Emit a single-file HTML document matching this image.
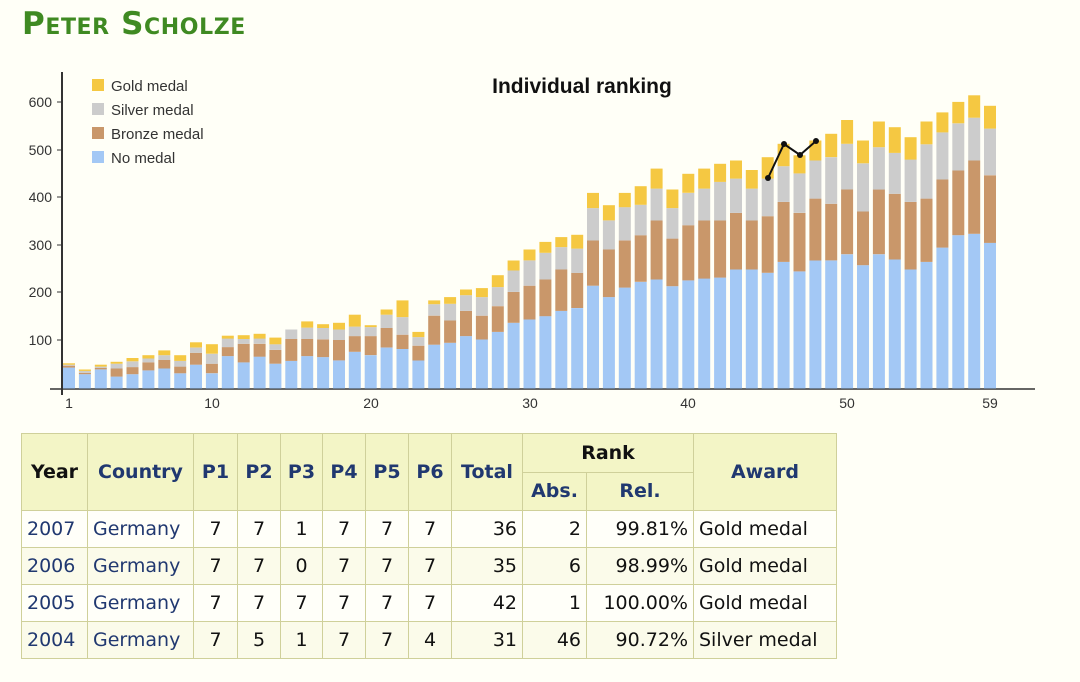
<!DOCTYPE html>
<html><head><meta charset="utf-8">
<style>
html,body{margin:0;padding:0;background:#fffff7;width:1080px;height:682px;overflow:hidden;font-family:"DejaVu Sans","Liberation Sans",sans-serif;}
h1{position:absolute;left:22px;top:6px;margin:0;font-size:31px;font-variant:small-caps;color:#3f8a22;font-weight:bold;letter-spacing:0.6px;}
svg{position:absolute;left:0;top:0;}
table{position:absolute;left:21px;top:433px;border-collapse:collapse;font-size:19px;table-layout:fixed;width:815px;}
td,th{border:1.5px solid #cfd09a;padding:0 5px;height:36px;overflow:hidden;white-space:nowrap;}
th{background:#f3f5c6;color:#203870;font-weight:bold;}
td{color:#111;text-align:center;}
td.l{text-align:left;color:#203870;}
td.r{text-align:right;}
td.a{text-align:left;}
tr.o td{background:#fffff9;}
tr.e td{background:#fbfbea;}
</style></head><body>
<h1>Peter Scholze</h1>
<svg id="c" width="1080" height="420" font-family="Liberation Sans, sans-serif">
<g font-size="14" fill="#333" text-anchor="end">
<text x="52" y="107">600</text><text x="52" y="155">500</text><text x="52" y="202">400</text>
<text x="52" y="250">300</text><text x="52" y="297">200</text><text x="52" y="345">100</text>
</g>
<g stroke="#333" stroke-width="1">
<line x1="57" y1="102" x2="62" y2="102"/><line x1="57" y1="150" x2="62" y2="150"/><line x1="57" y1="197" x2="62" y2="197"/>
<line x1="57" y1="245" x2="62" y2="245"/><line x1="57" y1="292" x2="62" y2="292"/><line x1="57" y1="340" x2="62" y2="340"/>
</g>
<line x1="62" y1="72" x2="62" y2="395" stroke="#333" stroke-width="2"/>
<line x1="50" y1="389" x2="1035" y2="389" stroke="#333" stroke-width="1.5"/>
<g font-size="14" fill="#333" text-anchor="middle">
<text x="69" y="408">1</text><text x="212" y="408">10</text><text x="371" y="408">20</text><text x="530" y="408">30</text>
<text x="688" y="408">40</text><text x="847" y="408">50</text><text x="990" y="408">59</text>
</g>
<text x="582" y="93" font-size="21" font-weight="bold" text-anchor="middle" fill="#111">Individual ranking</text>
<g font-size="15" fill="#333">
<rect x="92" y="79" width="12" height="12" fill="#f5c842"/><text x="111" y="91">Gold medal</text>
<rect x="92" y="103" width="12" height="12" fill="#cccccc"/><text x="111" y="115">Silver medal</text>
<rect x="92" y="127" width="12" height="12" fill="#c9976a"/><text x="111" y="139">Bronze medal</text>
<rect x="92" y="151" width="12" height="12" fill="#a3c8f5"/><text x="111" y="163">No medal</text>
</g>
<g id="bars"></g>
<polyline points="768,178 784,144 800,155 816,141" fill="none" stroke="#111" stroke-width="2"/>
<g fill="#111"><circle cx="768" cy="178" r="3"/><circle cx="784" cy="144" r="3"/><circle cx="800" cy="155" r="3"/><circle cx="816" cy="141" r="3"/></g>
</svg>
<script>
var d=[[44,48,50,53],[30,33,37,40],[40,43,46,50],[25,42,52,56],[30,45,57,64],[38,55,63,70],[42,60,70,80],[32,46,58,70],[50,75,86,97],[32,52,73,93],
[68,87,105,111],[55,94,104,112],[67,94,105,115],[52,81,93,107],[58,104,124,124],[68,104,128,141],[66,103,127,135],[59,102,124,138],[77,110,130,155],[70,110,129,133],
[86,127,155,166],[83,113,150,185],[59,90,108,119],[92,153,177,185],[96,143,178,192],[110,163,196,208],[103,153,192,211],[119,173,213,238],[138,203,248,269],[145,216,269,292],
[152,229,285,308],[163,250,297,318],[169,243,294,323],[216,311,379,411],[192,292,353,385],[212,311,381,411],[224,322,386,425],[229,353,420,462],[215,315,379,418],[227,343,411,451],
[231,353,420,462],[233,353,434,472],[250,369,441,479],[250,353,420,459],[243,362,441,486],[266,392,467,514],[246,369,452,490],[269,399,479,521],[269,388,486,535],[282,418,514,564],
[259,372,473,521],[282,418,507,561],[271,409,495,549],[250,392,481,528],[266,399,513,561],[296,439,538,580],[322,458,557,602],[325,479,569,616],[306,448,546,594]];
var col=["#a3c8f5","#c9976a","#cccccc","#f5c842"],s="",k=0.476,b=388.5;
for(var i=0;i<d.length;i++){var x=69+i*15.88-6,p=0;for(var j=0;j<4;j++){var v=d[i][j];if(v>p){s+='<rect x="'+x.toFixed(1)+'" y="'+(b-v*k).toFixed(1)+'" width="12" height="'+((v-p)*k).toFixed(1)+'" fill="'+col[j]+'"/>';}p=v;}}
document.getElementById("bars").innerHTML=s;
</script>
<table>
<colgroup><col style="width:66px"><col style="width:106px"><col style="width:44px"><col style="width:43px"><col style="width:42px"><col style="width:43px"><col style="width:43px"><col style="width:43px"><col style="width:71px"><col style="width:64px"><col style="width:107px"><col style="width:143px"></colgroup>
<tr><th rowspan="2" style="color:#111;height:76px">Year</th><th rowspan="2">Country</th><th rowspan="2">P1</th><th rowspan="2">P2</th><th rowspan="2">P3</th><th rowspan="2">P4</th><th rowspan="2">P5</th><th rowspan="2">P6</th><th rowspan="2">Total</th><th colspan="2" style="color:#111;height:37px">Rank</th><th rowspan="2">Award</th></tr>
<tr><th style="height:37px">Abs.</th><th>Rel.</th></tr>
<tr class="o"><td class="l" style="height:36px">2007</td><td class="l">Germany</td><td>7</td><td>7</td><td>1</td><td>7</td><td>7</td><td>7</td><td class="r">36</td><td class="r">2</td><td class="r">99.81%</td><td class="a">Gold medal</td></tr>
<tr class="e"><td class="l" style="height:36px">2006</td><td class="l">Germany</td><td>7</td><td>7</td><td>0</td><td>7</td><td>7</td><td>7</td><td class="r">35</td><td class="r">6</td><td class="r">98.99%</td><td class="a">Gold medal</td></tr>
<tr class="o"><td class="l" style="height:36px">2005</td><td class="l">Germany</td><td>7</td><td>7</td><td>7</td><td>7</td><td>7</td><td>7</td><td class="r">42</td><td class="r">1</td><td class="r">100.00%</td><td class="a">Gold medal</td></tr>
<tr class="e"><td class="l" style="height:36px">2004</td><td class="l">Germany</td><td>7</td><td>5</td><td>1</td><td>7</td><td>7</td><td>4</td><td class="r">31</td><td class="r">46</td><td class="r">90.72%</td><td class="a">Silver medal</td></tr>
</table>
</body></html>
